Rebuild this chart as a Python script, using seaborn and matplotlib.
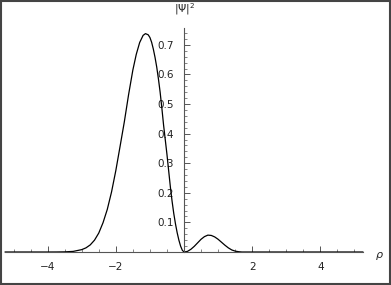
import matplotlib
matplotlib.use("Agg")
import matplotlib.pyplot as plt
import seaborn as sns
import pandas as pd
from matplotlib.ticker import FixedLocator
from matplotlib.patches import Rectangle

sns.set_style("white")
plt.rcParams['font.family'] = ['DejaVu Sans']

rho = [-5.25, -4.0, -3.75, -3.5, -3.25, -3.0, -2.875, -2.75, -2.625, -2.5, -2.375, -2.25,
       -2.125, -2.0, -1.875, -1.75, -1.625, -1.5, -1.4, -1.3, -1.2, -1.13, -1.05, -1.0,
       -0.95, -0.9, -0.85, -0.8, -0.75, -0.7, -0.65, -0.6, -0.55, -0.5, -0.45, -0.4,
       -0.35, -0.3, -0.25, -0.2, -0.15, -0.1, -0.05,
       0.0, 0.1, 0.2, 0.3, 0.4, 0.5, 0.6, 0.7, 0.8, 0.9, 1.0, 1.1, 1.2, 1.3,
       1.4, 1.5, 1.6, 1.7, 5.25]
psi2 = [0.0, 0.0, 0.0001, 0.0005, 0.002, 0.008, 0.014, 0.024, 0.040, 0.064, 0.099, 0.144,
        0.203, 0.275, 0.357, 0.44, 0.532, 0.615, 0.668, 0.708, 0.732, 0.738, 0.734, 0.725,
        0.709, 0.686, 0.658, 0.625, 0.585, 0.54, 0.487, 0.43, 0.38, 0.33, 0.275, 0.22,
        0.172, 0.13, 0.095, 0.065, 0.040, 0.02, 0.006,
        0.0, 0.002, 0.009, 0.019, 0.031, 0.043, 0.052, 0.057, 0.056, 0.051, 0.043, 0.033, 0.023, 0.014,
        0.007, 0.003, 0.001, 0.0, 0.0]
x_ticks = [-4, -2, 2, 4]
y_ticks = [0.1, 0.2, 0.3, 0.4, 0.5, 0.6, 0.7]

df = pd.DataFrame({"rho": rho, "psi2": psi2})

W, H = 391, 285
fig = plt.figure(figsize=(W / 100, H / 100), dpi=100)
ax = fig.add_axes([5 / W, (H - 252) / H, 358 / W, 224 / H])
sns.lineplot(data=df, x="rho", y="psi2", ax=ax, color="black", lw=0.9, clip_on=False)

ax.set_xlim(-5.25, 5.25)
ax.set_ylim(0, 0.757)
ax.set_xlabel("")
ax.set_ylabel("")

axcol = "#555555"
for s in ["top", "right"]:
    ax.spines[s].set_visible(False)
ax.spines["left"].set_position(("data", 0))
ax.spines["bottom"].set_position(("data", 0))
for s in ["left", "bottom"]:
    ax.spines[s].set_color(axcol)
    ax.spines[s].set_linewidth(0.8)

ax.xaxis.set_major_locator(FixedLocator(x_ticks))
ax.xaxis.set_minor_locator(FixedLocator([v / 2 for v in range(-10, 11) if v % 4 != 0]))
ax.yaxis.set_major_locator(FixedLocator(y_ticks))
ax.yaxis.set_minor_locator(FixedLocator([v / 100 for v in range(2, 76, 2) if v % 10 != 0]))
ax.set_xticklabels(["\u22124", "\u22122", "2", "4"])
ax.set_yticklabels([f"{v:.1f}" for v in y_ticks])
ax.tick_params(axis="both", which="both", bottom=True, left=True, top=False, right=False)
ax.tick_params(axis="both", which="major", direction="in", length=4, width=0.7,
               color=axcol, labelsize=7.5, labelcolor="#222222")
ax.tick_params(axis="both", which="minor", direction="in", length=2, width=0.5, color=axcol)
ax.tick_params(axis="x", which="major", pad=7)
ax.tick_params(axis="y", which="major", pad=7)
ax.patch.set_alpha(0)

fig.text(185 / W, 1 - 9 / H, "|\u03a8|$^2$", ha="center", va="center", fontsize=7.5, color="#222222")
fig.text(379 / W, 1 - 255 / H, "\u03c1", ha="center", va="center", fontsize=8, color="#222222",
         style="italic")

fig.patches.append(Rectangle((0.002, 0.003), 0.995, 0.994, transform=fig.transFigure,
                             fill=False, edgecolor="#444444", lw=1.5))

fig.savefig("out.png", dpi=100)
